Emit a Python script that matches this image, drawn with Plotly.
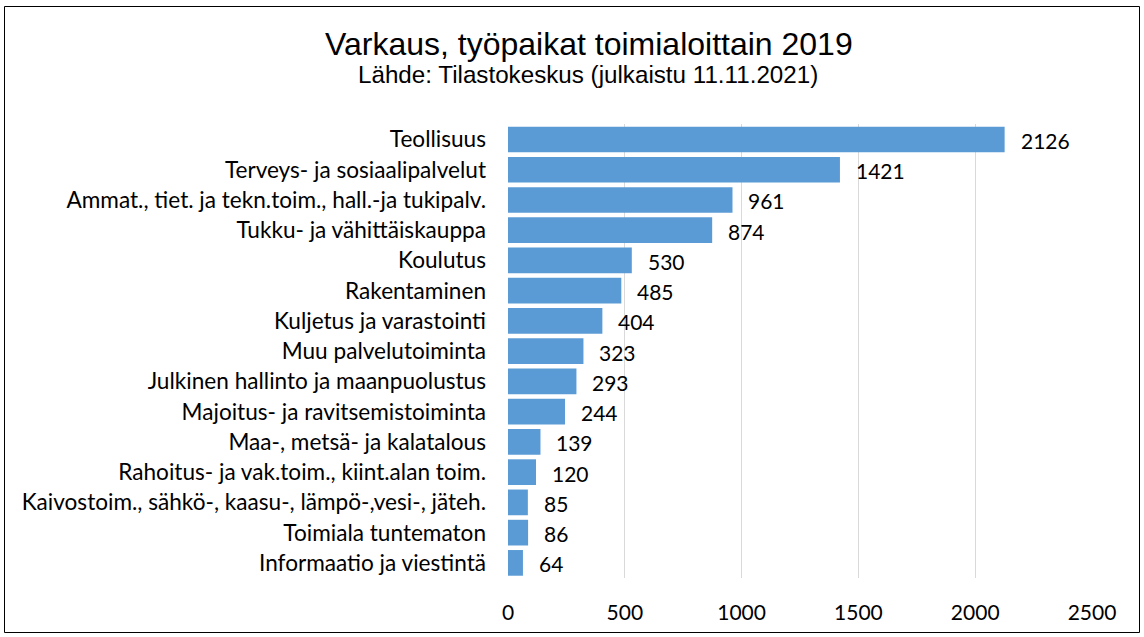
import plotly.graph_objects as go

categories = [
    "Teollisuus",
    "Terveys- ja sosiaalipalvelut",
    "Ammat., tiet. ja tekn.toim., hall.-ja tukipalv.",
    "Tukku- ja vähittäiskauppa",
    "Koulutus",
    "Rakentaminen",
    "Kuljetus ja varastointi",
    "Muu palvelutoiminta",
    "Julkinen hallinto ja maanpuolustus",
    "Majoitus- ja ravitsemistoiminta",
    "Maa-, metsä- ja kalatalous",
    "Rahoitus- ja vak.toim., kiint.alan toim.",
    "Kaivostoim., sähkö-, kaasu-, lämpö-,vesi-, jäteh.",
    "Toimiala tuntematon",
    "Informaatio ja viestintä",
]
values = [2126, 1421, 961, 874, 530, 485, 404, 323, 293, 244, 139, 120, 85, 86, 64]
tick_values = [0, 500, 1000, 1500, 2000, 2500]

W, H = 1144, 637
L, R, T, B = 508, 52, 124, 59
pw = W - L - R
ph = H - T - B

def px_x(p):
    return (p - L) / pw

def px_y(p):
    return (H - B - p) / ph

NUMFONT = "Lato, Carlito, Calibri, sans-serif"

fig = go.Figure()
fig.add_trace(go.Bar(
    x=values, y=categories, orientation="h",
    marker=dict(color="#5B9BD5", line=dict(width=0)),
    hoverinfo="x+y",
))

for c, v in zip(categories, values):
    fig.add_annotation(x=v, y=c, text=str(v), showarrow=False, xanchor="left",
                       xshift=14, yshift=-1,
                       font=dict(family=NUMFONT, size=21, color="#000"))

fig.add_annotation(x=px_x(589), y=px_y(44), xref="paper", yref="paper",
                   text="Varkaus, työpaikat toimialoittain 2019", showarrow=False,
                   xanchor="center", yanchor="middle",
                   font=dict(family="Liberation Sans, Arial, sans-serif", size=32, color="#000"))
fig.add_annotation(x=px_x(588), y=px_y(75), xref="paper", yref="paper",
                   text="Lähde: Tilastokeskus (julkaistu 11.11.2021)", showarrow=False,
                   xanchor="center", yanchor="middle",
                   font=dict(family="Liberation Sans, Arial, sans-serif", size=24.2, color="#000"))

fig.add_shape(type="rect", xref="paper", yref="paper",
              x0=px_x(4.5), x1=px_x(1139.5), y0=px_y(632.5), y1=px_y(6.5),
              line=dict(color="#000", width=1), fillcolor="rgba(0,0,0,0)", layer="below")

fig.update_layout(
    width=W, height=H,
    margin=dict(l=L, r=R, t=T, b=B, pad=0),
    paper_bgcolor="white", plot_bgcolor="white",
    bargap=0.15,
    showlegend=False,
    xaxis=dict(range=[0, 2500], tickvals=tick_values, showgrid=True,
               gridcolor="#d9d9d9", gridwidth=1, zeroline=False, showline=False,
               ticks="", ticklabelstandoff=20,
               tickfont=dict(family=NUMFONT, size=21, color="#000")),
    yaxis=dict(autorange="reversed", showgrid=False, zeroline=False, showline=False,
               ticks="", ticklabelstandoff=21,
               tickfont=dict(family=NUMFONT, size=22.6, color="#000")),
)

fig.write_html("out.html", config={"displayModeBar": False},
               post_script="document.body.style.margin='0';document.body.style.overflow='hidden';")
